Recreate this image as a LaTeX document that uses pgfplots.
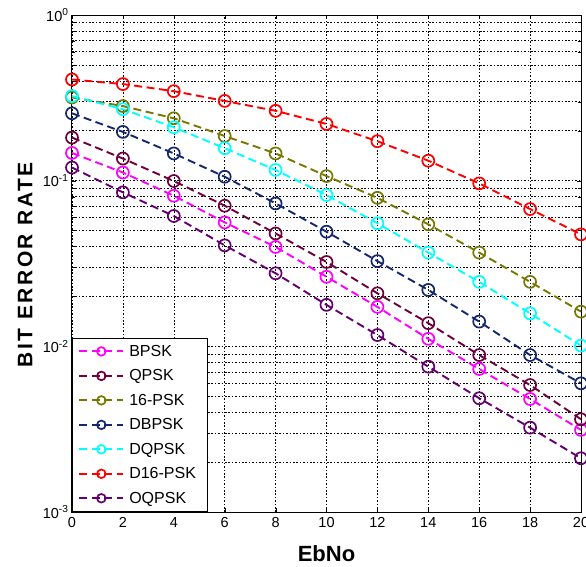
\documentclass[border=0pt]{standalone}
\usepackage{fontspec}
\setmainfont{Liberation Sans}
\usepackage{pgfplots}
\pgfplotsset{compat=1.18}
\definecolor{cmag}{RGB}{255,0,255}
\definecolor{cmar}{RGB}{110,0,60}
\definecolor{coli}{RGB}{120,120,0}
\definecolor{cnav}{RGB}{20,40,110}
\definecolor{ccya}{RGB}{0,255,255}
\definecolor{cred}{RGB}{255,0,0}
\definecolor{cpur}{RGB}{100,0,110}
\begin{document}
\begin{tikzpicture}
\begin{axis}[
  name=ax,
  scale only axis,
  width=509pt, height=497pt,
  xmin=0, xmax=20, ymin=1e-3, ymax=1,
  ymode=log,
  xtick={0,2,...,20},
  ytick={1e-3,1e-2,1e-1,1},
  yticklabels={10\textsuperscript{-3},10\textsuperscript{-2},10\textsuperscript{-1},10\textsuperscript{0}},
  /pgf/number format/assume math mode=true,
  ticklabel style={font=\fontsize{14.5}{16}\selectfont},
  xticklabel style={yshift=-2pt},
  grid=both,
  major grid style={black, line width=0.6pt, dash pattern=on 1.6pt off 1.8pt},
  minor grid style={black, line width=0.6pt, dash pattern=on 1.6pt off 1.8pt},
  axis line style={black, line width=1pt},
  tick style={black},
  xlabel={\textbf{EbNo}},
  ylabel={\addfontfeatures{LetterSpace=12}\textbf{BIT ERROR RATE}},
  xlabel style={font=\fontsize{22}{24}\selectfont, at={(axis description cs:0.5,-0.083)}, anchor=center},
  ylabel style={font=\fontsize{21}{24}\selectfont, at={(axis description cs:-0.092,0.5)}, anchor=center},
  every axis plot/.append style={line width=1.9pt, dash pattern=on 8pt off 4.5pt, mark=o, mark size=6pt, mark options={solid, line width=1.7pt}},
  legend style={at={(0,0)}, anchor=south west, draw=black, line width=0.8pt, fill=white,
    font=\fontsize{16}{18}\selectfont, row sep=7.8pt, inner xsep=6pt, inner ysep=5pt,
    cells={anchor=west}, nodes={inner xsep=5pt}},
  legend image code/.code={\draw[mark repeat=2,mark phase=2,mark size=4.3pt] plot coordinates {(0pt,0pt) (22pt,0pt) (44pt,0pt)};},
  clip=false,
]
\addplot[color=cmag] coordinates {(0,0.147) (2,0.112) (4,0.0811) (6,0.0560) (8,0.0398) (10,0.0263) (12,0.0173) (14,0.0111) (16,0.00730) (18,0.00481) (20,0.00313)};
\addlegendentry{BPSK}
\addplot[color=cmar] coordinates {(0,0.182) (2,0.136) (4,0.0995) (6,0.0706) (8,0.0480) (10,0.0323) (12,0.0209) (14,0.0138) (16,0.00886) (18,0.00584) (20,0.00363)};
\addlegendentry{QPSK}
\addplot[color=coli] coordinates {(0,0.318) (2,0.282) (4,0.238) (6,0.186) (8,0.146) (10,0.1066) (12,0.0788) (14,0.0545) (16,0.0368) (18,0.0245) (20,0.0162)};
\addlegendentry{16-PSK}
\addplot[color=cnav] coordinates {(0,0.255) (2,0.197) (4,0.146) (6,0.1056) (8,0.0729) (10,0.0492) (12,0.0327) (14,0.0219) (16,0.0141) (18,0.00886) (20,0.00598)};
\addlegendentry{DBPSK}
\addplot[color=ccya] coordinates {(0,0.324) (2,0.270) (4,0.210) (6,0.157) (8,0.116) (10,0.0819) (12,0.0553) (14,0.0368) (16,0.0245) (18,0.0158) (20,0.0101)};
\addlegendentry{DQPSK}
\addplot[color=cred] coordinates {(0,0.408) (2,0.383) (4,0.347) (6,0.303) (8,0.264) (10,0.220) (12,0.173) (14,0.132) (16,0.0963) (18,0.0674) (20,0.0474)};
\addlegendentry{D16-PSK}
\addplot[color=cpur] coordinates {(0,0.120) (2,0.0850) (4,0.0612) (6,0.0407) (8,0.0276) (10,0.0178) (12,0.0117) (14,0.00754) (16,0.00486) (18,0.00323) (20,0.00211)};
\addlegendentry{OQPSK}
\end{axis}
\pgfresetboundingbox
\path[use as bounding box] ([xshift=-72pt,yshift=-55pt]ax.south west) rectangle ([xshift=5pt,yshift=15pt]ax.north east);
\end{tikzpicture}
\end{document}
